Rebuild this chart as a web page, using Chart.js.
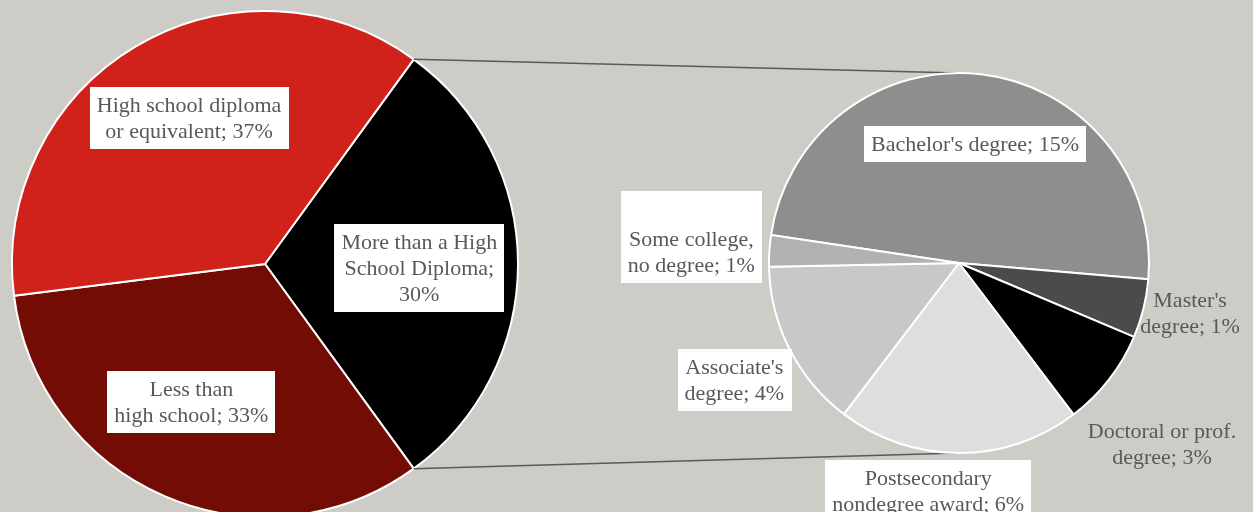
<!DOCTYPE html>
<html>
<head>
<meta charset="utf-8">
<script src="https://cdn.jsdelivr.net/npm/chart.js@4/dist/chart.umd.min.js"></script>
<style>
    html, body { margin: 0; padding: 0; background: #cdccc7; }
    #wrap { position: relative; width: 1253px; height: 512px; overflow: hidden; background: #cdccc7; }
    #wrap canvas { position: absolute; left: 0; top: 0; }
</style>
</head>
<body>
<div id="wrap">
    <canvas id="main-pie" width="1253" height="512"></canvas>
    <canvas id="detail-pie" width="1253" height="512"></canvas>
</div>
<script>
// Main pie (clockwise from the split-off slice)
const mainLabels = ['More than a High School Diploma', 'Less than high school', 'High school diploma or equivalent'];
const mainValues = [30, 33, 37];
const mainPercents = ['30%', '33%', '37%'];

// Breakdown of "More than a High School Diploma"
const detailLabels = ["Bachelor's degree", "Master's degree", 'Doctoral or prof. degree', 'Postsecondary nondegree award', "Associate's degree", 'Some college, no degree'];
const detailValues = [14.7, 1.5, 2.5, 6.2, 4.3, 0.8];
const detailPercents = ['15%', '1%', '3%', '6%', '4%', '1%'];

/* global Chart */
(function() {
    'use strict';

    const FONT = '22px "Liberation Serif", "Times New Roman", serif';
    const TEXT_COLOR = '#595959';
    const LINE_H = 26;

    // how each label is wrapped and where it sits: [angle from top in deg, distance as share of radius]
    const mainLabelStyle = [
        { lines: ['More than a High', 'School Diploma;', '30%'], pos: [91.4, 0.61], box: true },
        { lines: ['Less than', 'high school; 33%'], pos: [208, 0.62], box: true },
        { lines: ['High school diploma', 'or equivalent; 37%'], pos: [332.5, 0.65], box: true }
    ];
    const detailLabelStyle = [
        { lines: ["Bachelor's degree; 15%"], pos: [7.7, 0.63], box: true },
        { lines: ["Master's", 'degree; 1%'], pos: [102.3, 1.245], box: false },
        { lines: ['Doctoral or prof.', 'degree; 3%'], pos: [131.8, 1.433], box: false },
        { lines: ['Postsecondary', 'nondegree award; 6%'], pos: [187.7, 1.21], box: true },
        { lines: ["Associate's", 'degree; 4%'], pos: [242.5, 1.333], box: true },
        { lines: ['Some college,', 'no degree; 1%'], pos: [272.4, 1.41], box: true, extraTop: 30 }
    ];

    function drawLabel(ctx, style, cx, cy) {
        ctx.save();
        ctx.font = FONT;
        const w = Math.max.apply(null, style.lines.map(l => ctx.measureText(l).width));
        const h = style.lines.length * LINE_H;
        if (style.box) {
            const extra = style.extraTop || 0;
            ctx.fillStyle = '#ffffff';
            ctx.fillRect(Math.round(cx - w / 2 - 7), Math.round(cy - h / 2 - 5 - extra), Math.round(w + 14), Math.round(h + 10 + extra));
        }
        ctx.fillStyle = TEXT_COLOR;
        ctx.textAlign = 'center';
        ctx.textBaseline = 'middle';
        style.lines.forEach((line, i) => {
            ctx.fillText(line, cx, cy - h / 2 + LINE_H * (i + 0.5) + 1);
        });
        ctx.restore();
    }

    function labelPlugin(styles) {
        return {
            id: 'sliceLabels',
            afterDatasetsDraw: function(chart) {
                const arcs = chart.getDatasetMeta(0).data;
                styles.forEach((style, i) => {
                    const arc = arcs[i];
                    const a = (style.pos[0] - 90) * Math.PI / 180;
                    const d = style.pos[1] * arc.outerRadius;
                    drawLabel(chart.ctx, style, arc.x + d * Math.cos(a), arc.y + d * Math.sin(a));
                });
            }
        };
    }

    const mainChart = new Chart(document.getElementById('main-pie'), {
        type: 'pie',
        data: {
            labels: mainLabels,
            datasets: [{
                data: mainValues,
                backgroundColor: ['#000000', '#730c05', '#d0211a'],
                borderColor: '#ffffff',
                borderWidth: 2,
                clip: false
            }]
        },
        options: {
            responsive: false,
            animation: false,
            devicePixelRatio: 1,
            rotation: 36,
            radius: 253,
            layout: { padding: { left: 0, right: 723, top: 16, bottom: 0 } },
            plugins: { legend: { display: false }, tooltip: { enabled: false } }
        },
        plugins: [labelPlugin(mainLabelStyle)]
    });

    // lines from the split-off slice to the top and bottom of the second pie
    const connectorPlugin = {
        id: 'connectors',
        beforeDatasetsDraw: function(chart) {
            const src = mainChart.getDatasetMeta(0).data[0];
            const dst = chart.getDatasetMeta(0).data[0];
            const R = src.outerRadius;
            const ctx = chart.ctx;
            ctx.save();
            ctx.strokeStyle = '#5a5a5a';
            ctx.lineWidth = 1.5;
            ctx.beginPath();
            ctx.moveTo(src.x + R * Math.cos(src.startAngle), src.y + R * Math.sin(src.startAngle));
            ctx.lineTo(dst.x, dst.y - dst.outerRadius);
            ctx.moveTo(src.x + R * Math.cos(src.endAngle), src.y + R * Math.sin(src.endAngle));
            ctx.lineTo(dst.x, dst.y + dst.outerRadius);
            ctx.stroke();
            ctx.restore();
        }
    };

    new Chart(document.getElementById('detail-pie'), {
        type: 'pie',
        data: {
            labels: detailLabels,
            datasets: [{
                data: detailValues,
                backgroundColor: ['#8e8e8e', '#4b4b4b', '#000000', '#dedede', '#c8c8c8', '#b1b1b1'],
                borderColor: '#ffffff',
                borderWidth: 2,
                clip: false
            }]
        },
        options: {
            responsive: false,
            animation: false,
            devicePixelRatio: 1,
            rotation: -81.5,
            radius: 190,
            layout: { padding: { left: 759, right: 94, top: 63, bottom: 49 } },
            plugins: { legend: { display: false }, tooltip: { enabled: false } }
        },
        plugins: [connectorPlugin, labelPlugin(detailLabelStyle)]
    });
})();
</script>
</body>
</html>
